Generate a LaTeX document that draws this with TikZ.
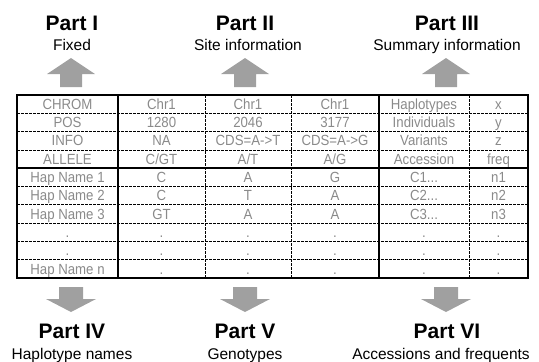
\documentclass[tikz,border=0pt]{standalone}
\usepackage{fontspec}
\setmainfont{Liberation Sans}
\newfontfamily\cellfont[FakeStretch=0.9]{Liberation Sans}
\definecolor{arrowgray}{HTML}{A0A0A0}
\definecolor{cellgray}{HTML}{8A8A8A}
\newcommand\celldots{...}
\tikzset{
  cell/.style={text=cellgray, font=\cellfont\fontsize{14.7}{15}\selectfont, inner sep=0pt, anchor=base},
  parttitle/.style={font=\fontsize{21}{22}\selectfont\bfseries, inner sep=0pt, anchor=base},
  partsub/.style={font=\fontsize{15.5}{16}\selectfont, inner sep=0pt, anchor=base},
  thickrule/.style={line width=2.2pt},
  thinrule/.style={line width=0.7pt, dash pattern=on 2.5pt off 1.5pt},
}
\begin{document}
\begin{tikzpicture}[x=1pt, y=-1pt]
    \useasboundingbox (0,0) rectangle (539,362);
    % parts above the table
    \node[parttitle] (p1) at (72,30) {Part I};
    \node[partsub] (s1) at (72,50) {Fixed};
    \node[parttitle] (p2) at (245,30) {Part II};
    \node[partsub] (s2) at (248,50) {Site information};
    \node[parttitle] (p3) at (447,30) {Part III};
    \node[partsub] (s3) at (447,50) {Summary information};
    \foreach \ax in {71,245,446}
        \fill[arrowgray] (\ax-11,87) -- (\ax-11,74) -- (\ax-24,74) -- (\ax,58)
            -- (\ax+24,74) -- (\ax+11,74) -- (\ax+11,87) -- cycle;

    % table cells
    \foreach \i/\a/\b/\c/\d/\e/\f in {
        1/CHROM/Chr1/Chr1/Chr1/Haplotypes/x,
        2/POS/1280/2046/3177/Individuals/y,
        3/INFO/NA/CDS=A->T/CDS=A->G/Variants/z,
        4/ALLELE/{C/GT}/{A/T}/{A/G}/Accession/freq,
        5/Hap Name 1/C/A/G/C1\celldots/n1,
        6/Hap Name 2/C/T/A/C2\celldots/n2,
        7/Hap Name 3/GT/A/A/C3\celldots/n3,
        8/./././././.,
        9/./././././.,
        10/Hap Name n/././././.}
    {
        \pgfmathsetmacro{\yb}{95+18.3*(\i-0.5)+5.2}
        \node[cell] (c\i-1) at (67.5,\yb) {\a};
        \node[cell] (c\i-2) at (161.5,\yb) {\b};
        \node[cell] (c\i-3) at (248,\yb) {\c};
        \node[cell] (c\i-4) at (335,\yb) {\d};
        \node[cell] (c\i-5) at (424,\yb) {\e};
        \node[cell] (c\i-6) at (498.5,\yb) {\f};
    }

    % table rules
    \foreach \k in {1,2,3,5,6,7,8,9}
        \draw[thinrule] (17,95+18.3*\k) -- (528,95+18.3*\k);
    \foreach \vx in {205,291,469}
        \draw[thinrule] (\vx,95) -- (\vx,278);
    \draw[thickrule] (17,95+18.3*4) -- (528,95+18.3*4);
    \draw[thickrule] (118,95) -- (118,278);
    \draw[thickrule] (379,95) -- (379,278);
    \draw[thickrule] (17,95) rectangle (528,278);

    % parts below the table
    \foreach \ax in {71,245,446}
        \fill[arrowgray] (\ax-12,287) -- (\ax-12,299) -- (\ax-25,299) -- (\ax,312)
            -- (\ax+25,299) -- (\ax+12,299) -- (\ax+12,287) -- cycle;
    \node[parttitle] (p4) at (72,338) {Part IV};
    \node[partsub] (s4) at (72,359) {Haplotype names};
    \node[parttitle] (p5) at (245,338) {Part V};
    \node[partsub] (s5) at (245,359) {Genotypes};
    \node[parttitle] (p6) at (447,338) {Part VI};
    \node[partsub] (s6) at (441,359) {Accessions and frequents};
\end{tikzpicture}
\end{document}
